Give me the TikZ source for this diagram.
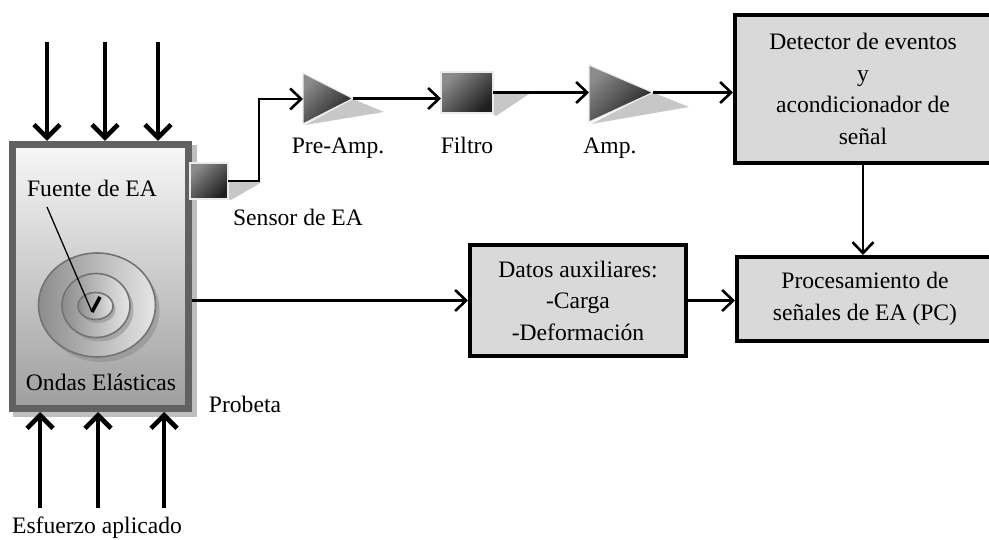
\documentclass[tikz,border=0pt]{standalone}
\usepackage{fontspec}
\setmainfont{Liberation Serif}
\usetikzlibrary{arrows.meta,calc}
\newcommand\lblfont{\fontsize{23.6}{31.5}\selectfont}
\tikzset{
  sig/.style={line width=2.6pt, -{Straight Barb[length=11pt,width=21pt,line width=2.6pt]}},
  force/.style={line width=4.6pt, -{Straight Barb[length=13pt,width=26pt,line width=4.6pt]}},
  blk/.style={draw=black, line width=4pt, fill=black!15, align=center,
    inner sep=0pt, outer sep=2pt, font=\lblfont},
  lbl/.style={anchor=base, inner sep=0pt, font=\lblfont},
  dev/.style={draw=black!8, line width=1.2pt, shading=axis,
    top color=black!45, bottom color=black!88, shading angle=45},
  devshadow/.style={fill=black!22},
  disk/.style={draw=black!55, line width=1.6pt, left color=black!45, right color=black!10},
  diskshadow/.style={fill=black!45, opacity=0.55},
}
\begin{document}
\begin{tikzpicture}[x=1pt,y=-1pt]
\useasboundingbox (0,0) rectangle (989,540);
\clip (0,0) rectangle (989,540);

% specimen (probeta) with its drop shadow
\fill[black!25] (13,145) rectangle (197,417);
\node[draw=black!62, line width=7pt, top color=black!3, bottom color=black!38,
      minimum width=176pt, minimum height=264pt, inner sep=0pt, outer sep=3.5pt]
      (spec) at (100.5,276.5) {};

% concentric elastic waves
\fill[diskshadow] (101,310) ellipse [x radius=58.5, y radius=52];
\draw[disk] (97,305) ellipse [x radius=58.5, y radius=52];
\fill[diskshadow] (99.5,309.5) ellipse [x radius=34, y radius=32];
\draw[disk] (96,305.5) ellipse [x radius=34, y radius=32];
\fill[diskshadow] (98,309.5) ellipse [x radius=17.5, y radius=13.5];
\draw[disk] (95.5,306) ellipse [x radius=17.5, y radius=13.5];

% source pointer
\node[lbl] (fuente) at (92,197) {Fuente de EA};
\coordinate (src) at (92,312);
\draw[line width=1.3pt] (47,207) -- (src);
\draw[line width=3.6pt] (src) -- (100,297);
\node[lbl] (ondas) at (101,390) {Ondas Elásticas};
\node[lbl] (probeta) at (245,412) {Probeta};

% applied load
\foreach \i/\x in {1/47,2/105,3/158}{
  \coordinate (f\i) at (\x,42);
  \draw[force] (f\i) -- (f\i |- spec.north);
}
\foreach \i/\x in {1/40,2/98,3/164}{
  \coordinate (g\i) at (\x,508);
  \draw[force] (g\i) -- (g\i |- spec.south);
}
\node[lbl] (esf) at (97,533) {Esfuerzo aplicado};

% sensor
\fill[devshadow] (228,182) -- (262,182) -- (231,200) -- (228,199) -- cycle;
\node[dev, minimum width=38pt, minimum height=36pt, inner sep=0pt, outer sep=0pt]
      (sensor) at (209,181) {};
\node[lbl] (sensorlbl) at (298,226) {Sensor de EA};

% pre-amplifier
\fill[devshadow] (305,125) -- (384,112) -- (353,99) -- cycle;
\shade[dev] (303,73) -- (353,98.5) -- (303,124) -- cycle;
\coordinate (preIn) at (303,99);
\coordinate (preOut) at (353,98.5);
\node[lbl] (prelbl) at (338,154) {Pre-Amp.};

% filter
\fill[devshadow] (493,94) -- (529,94) -- (496,116) -- (493,114) -- cycle;
\node[dev, minimum width=52pt, minimum height=41pt, inner sep=0pt, outer sep=0pt]
      (filtro) at (467,92.5) {};
\node[lbl] (filtrolbl) at (467,154) {Filtro};

% amplifier
\fill[devshadow] (591,124) -- (689,107) -- (653,92.5) -- cycle;
\shade[dev] (589,65) -- (653,92.5) -- (589,122) -- cycle;
\coordinate (ampIn) at (589,93);
\coordinate (ampOut) at (653,92.5);
\node[lbl] (amplbl) at (610,154) {Amp.};

% processing blocks
\node[blk, minimum width=256pt, minimum height=148pt] (det) at (863,89)
  {Detector de eventos\\y\\acondicionador de\\señal};
\node[blk, minimum width=256pt, minimum height=84pt] (proc) at (865,299)
  {Procesamiento de\\señales de EA (PC)};
\node[blk, minimum width=216pt, minimum height=111pt] (datos) at (578,300.5)
  {Datos auxiliares:\\-Carga\\-Deformación};

% signal path
\draw[sig] (sensor.east) -- ++(31,0) |- (preIn);
\draw[sig] (preOut) -- (preOut -| filtro.west);
\draw[sig] (filtro.east) -- (filtro.east -| ampIn);
\draw[sig] (ampOut) -- (ampOut -| det.west);
\draw[sig] (det.south) -- (det.south |- proc.north);
\draw[sig] (spec.east |- datos.west) -- (datos.west);
\draw[sig] (datos.east) -- (datos.east -| proc.west);
\end{tikzpicture}
\end{document}
